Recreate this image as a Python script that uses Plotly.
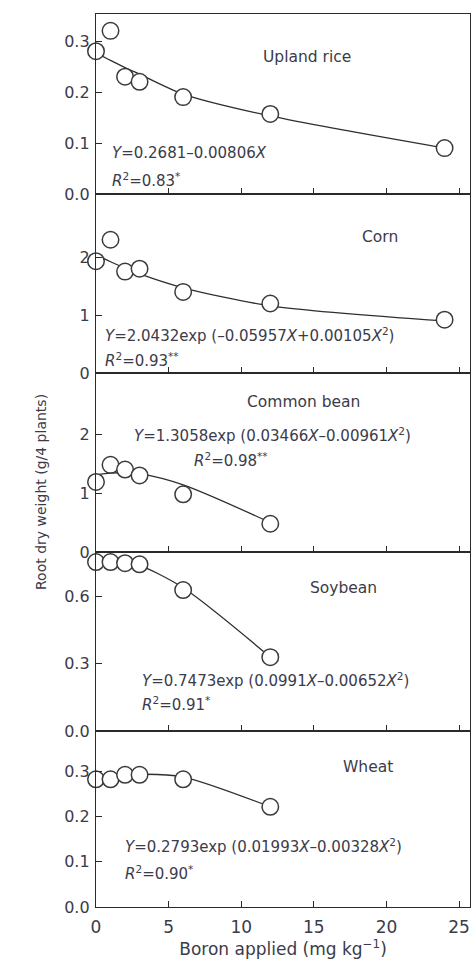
import plotly.graph_objects as go

# ---- data ----
boron = [0, 1, 2, 3, 6, 12, 24]
boron_short = [0, 1, 2, 3, 6, 12]

crops = ["Upland rice", "Corn", "Common bean", "Soybean", "Wheat"]

rice_obs = [0.28, 0.32, 0.23, 0.22, 0.19, 0.157, 0.09]
rice_fit = [0.277, 0.262, 0.248, 0.235, 0.196, 0.153, 0.09]

corn_obs = [1.93, 2.30, 1.75, 1.80, 1.40, 1.20, 0.92]
corn_fit = [2.04, 1.92, 1.81, 1.71, 1.47, 1.16, 0.90]

bean_obs = [1.19, 1.48, 1.40, 1.30, 0.98, 0.48]
bean_fit = [1.31, 1.34, 1.35, 1.33, 1.14, 0.50]

soy_obs = [0.755, 0.755, 0.75, 0.745, 0.63, 0.33]
soy_fit = [0.75, 0.755, 0.752, 0.74, 0.64, 0.33]

wheat_obs = [0.283, 0.283, 0.293, 0.293, 0.283, 0.222]
wheat_fit = [0.28, 0.286, 0.291, 0.294, 0.288, 0.222]

equations = [
    "<i>Y</i>=0.2681–0.00806<i>X</i>",
    "<i>Y</i>=2.0432exp (–0.05957<i>X</i>+0.00105<i>X</i><sup>2</sup>)",
    "<i>Y</i>=1.3058exp (0.03466<i>X</i>–0.00961<i>X</i><sup>2</sup>)",
    "<i>Y</i>=0.7473exp (0.0991<i>X</i>–0.00652<i>X</i><sup>2</sup>)",
    "<i>Y</i>=0.2793exp (0.01993<i>X</i>–0.00328<i>X</i><sup>2</sup>)",
]
r2_labels = [
    "<i>R</i><sup>2</sup>=0.83<sup>*</sup>",
    "<i>R</i><sup>2</sup>=0.93<sup>**</sup>",
    "<i>R</i><sup>2</sup>=0.98<sup>**</sup>",
    "<i>R</i><sup>2</sup>=0.91<sup>*</sup>",
    "<i>R</i><sup>2</sup>=0.90<sup>*</sup>",
]

y_ranges = [[0, 0.353], [0, 3.09], [0, 3.04], [0, 0.8], [0, 0.39]]
y_ticks = [[0, 0.1, 0.2, 0.3], [0, 1, 2], [0, 1, 2], [0, 0.3, 0.6], [0, 0.1, 0.2, 0.3]]
y_fmt = [".1f", "d", "d", ".1f", ".1f"]
x_ticks = [0, 5, 10, 15, 20, 25]

obs = [rice_obs, corn_obs, bean_obs, soy_obs, wheat_obs]
fits = [rice_fit, corn_fit, bean_fit, soy_fit, wheat_fit]
xs = [boron, boron, boron_short, boron_short, boron_short]

# ---- layout geometry (pixels) ----
W, H = 475, 963
L, R, T, B = 96, 5, 14, 56
panel_edges = [14, 194, 373, 552, 731, 907]
plot_h = H - T - B

def ypaper(px):
    return (H - B - px) / plot_h

TXT = "#3b3b4a"
FONT = "DejaVu Sans, Verdana, sans-serif"

fig = go.Figure()
for i in range(5):
    xa = "x" if i == 0 else f"x{i+1}"
    ya = "y" if i == 0 else f"y{i+1}"
    fig.add_trace(go.Scatter(
        x=xs[i], y=fits[i], mode="lines", line=dict(color="#2f2f2f", width=1.3, shape="spline", smoothing=0.8),
        xaxis=xa, yaxis=ya, showlegend=False, hoverinfo="skip", cliponaxis=False))
    fig.add_trace(go.Scatter(
        x=xs[i], y=obs[i], mode="markers",
        marker=dict(symbol="circle", size=16.5, color="white", line=dict(color="#3a3a3a", width=1.5)),
        xaxis=xa, yaxis=ya, showlegend=False, cliponaxis=False))

axis_common = dict(showline=True, linecolor="#2a2a2a", linewidth=1.3, mirror=True,
                   ticks="inside", ticklen=6, tickcolor="#2a2a2a", tickwidth=1.2,
                   showgrid=False, zeroline=False,
                   tickfont=dict(family=FONT, size=16, color=TXT))

layout = dict(width=W, height=H, margin=dict(l=L, r=R, t=T, b=B),
              plot_bgcolor="white", paper_bgcolor="white",
              font=dict(family=FONT, color=TXT))

for i in range(5):
    top_px, bot_px = panel_edges[i], panel_edges[i + 1]
    xkey = "xaxis" if i == 0 else f"xaxis{i+1}"
    ykey = "yaxis" if i == 0 else f"yaxis{i+1}"
    yanchor = "y" if i == 0 else f"y{i+1}"
    xanchor = "x" if i == 0 else f"x{i+1}"
    xa = dict(axis_common, range=[0, 25.75], tickvals=x_ticks, anchor=yanchor,
              showticklabels=(i == 4), domain=[0, 1])
    if i == 4:
        xa["tickfont"] = dict(family=FONT, size=17, color=TXT)
        xa["ticklabelstandoff"] = 4
        xa["title"] = dict(text="Boron applied (mg kg<sup>−1</sup>)", standoff=6,
                           font=dict(family=FONT, size=17, color=TXT))
    else:
        xa["matches"] = "x5"
    layout[xkey] = xa
    layout[ykey] = dict(axis_common, range=y_ranges[i], tickvals=y_ticks[i], tickformat=y_fmt[i],
                        anchor=xanchor, domain=[ypaper(bot_px), ypaper(top_px)], ticklabelstandoff=2)

fig.update_layout(**layout)

# ---- annotations ----
def xd(px):
    return (px - L) / (W - L - R)

def yd(px, i):
    top_px, bot_px = panel_edges[i], panel_edges[i + 1]
    return (bot_px - px) / (bot_px - top_px)

name_pos = [(307, 57), (380, 237), (303, 402), (343, 588), (368, 767)]
eq_pos = [(110, 153), (103, 335), (132, 435), (140, 680), (123, 846)]
r2_pos = [(110, 180), (103, 360), (192, 460), (140, 704), (123, 873)]

for i in range(5):
    xr = "x domain" if i == 0 else f"x{i+1} domain"
    yr = "y domain" if i == 0 else f"y{i+1} domain"
    fig.add_annotation(text=crops[i], x=xd(name_pos[i][0]), y=yd(name_pos[i][1], i),
                       xref=xr, yref=yr, showarrow=False, xanchor="center", yanchor="middle",
                       font=dict(family=FONT, size=15.5, color=TXT))
    fig.add_annotation(text=equations[i], x=xd(eq_pos[i][0]), y=yd(eq_pos[i][1], i),
                       xref=xr, yref=yr, showarrow=False, xanchor="left", yanchor="middle",
                       font=dict(family=FONT, size=15, color=TXT))
    fig.add_annotation(text=r2_labels[i], x=xd(r2_pos[i][0]), y=yd(r2_pos[i][1], i),
                       xref=xr, yref=yr, showarrow=False, xanchor="left", yanchor="middle",
                       font=dict(family=FONT, size=15, color=TXT))

fig.add_annotation(text="Root dry weight (g/4 plants)", x=xd(41), y=ypaper(492),
                   xref="paper", yref="paper", xanchor="center", yanchor="middle",
                   showarrow=False, textangle=-90, font=dict(family=FONT, size=14, color=TXT))

fig.write_html("out.html", config={"displayModeBar": False},
               post_script="document.body.style.margin='0';document.body.style.overflow='hidden';")
